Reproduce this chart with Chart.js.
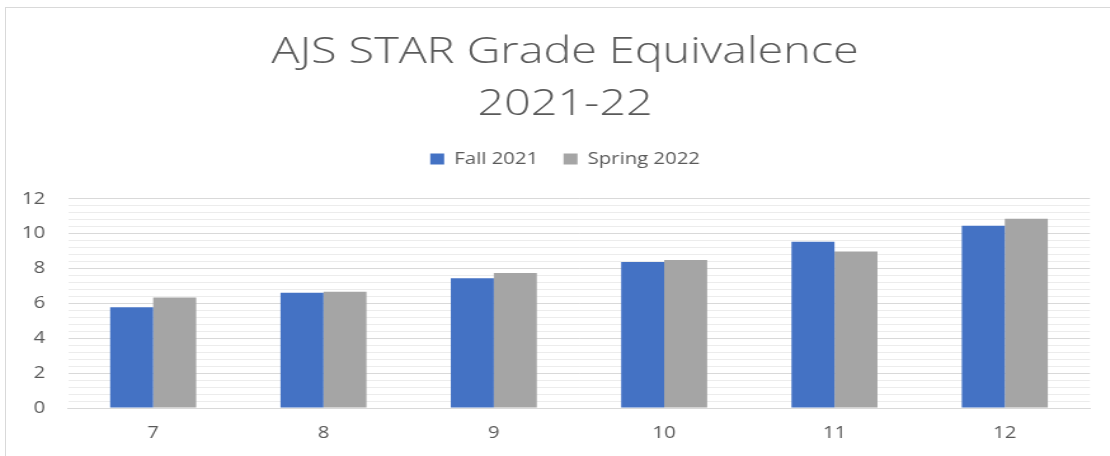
<!DOCTYPE html>
<html>
<head>
<meta charset="utf-8">
<script src="https://cdn.jsdelivr.net/npm/chart.js@4"></script>
<style>
  html, body { margin: 0; padding: 0; background: #ffffff; overflow: hidden; }
  #frame { position: absolute; left: 5px; top: 7px; width: 1110px; height: 460px;
           border-left: 1px solid #d9d9d9; border-top: 1px solid #d9d9d9; }
  #wrap { position: absolute; left: 5px; top: 0; width: 882px; height: 456px;
          transform: scaleX(1.27); transform-origin: 0 0; }
</style>
</head>
<body>
<div id="frame"></div>
<div id="wrap"><canvas id="c"></canvas></div>
<script>
const categories = ['7', '8', '9', '10', '11', '12'];
const fall2021 = [5.79, 6.61, 7.45, 8.38, 9.54, 10.46];
const spring2022 = [6.34, 6.67, 7.75, 8.50, 8.99, 10.87];
const yMajorTicks = [0, 2, 4, 6, 8, 10, 12];
const yMinorStep = 0.4;
const titleLines = ['AJS STAR Grade Equivalence', '2021-22'];
const seriesNames = ['Fall 2021', 'Spring 2022'];

const textColor = '#595959';
const fontFamily = "'Open Sans', 'Noto Sans', sans-serif";

const legendMargin = {
  id: 'legendMargin',
  beforeInit(chart) {
    const orig = chart.legend.fit;
    chart.legend.fit = function () {
      orig.bind(chart.legend)();
      this.height += 22;
    };
  }
};

new Chart(document.getElementById('c'), {
  type: 'bar',
  data: {
    labels: categories,
    datasets: [
      { label: seriesNames[0], data: fall2021, backgroundColor: '#4472C4',
        categoryPercentage: 0.505, barPercentage: 1.0 },
      { label: seriesNames[1], data: spring2022, backgroundColor: '#A5A5A5',
        categoryPercentage: 0.505, barPercentage: 1.0 }
    ]
  },
  plugins: [legendMargin],
  options: {
    responsive: true,
    maintainAspectRatio: false,
    animation: false,
    layout: { padding: 0 },
    plugins: {
      title: {
        display: true,
        text: titleLines,
        color: textColor,
        font: { family: fontFamily, size: 36.8, weight: '300', lineHeight: 1.413 },
        padding: { top: 27, bottom: 0 }
      },
      legend: {
        display: true,
        position: 'top',
        labels: {
          color: textColor,
          font: { family: fontFamily, size: 16 },
          boxWidth: 11,
          boxHeight: 11,
          padding: 20
        }
      },
      tooltip: { enabled: false }
    },
    scales: {
      x: {
        afterFit: (axis) => { axis.height = 48; },
        grid: { display: false, drawTicks: false },
        border: { display: true, color: '#d9d9d9', width: 1 },
        ticks: { color: textColor, font: { family: fontFamily, size: 16 }, padding: 16 }
      },
      y: {
        min: 0,
        max: 12,
        afterFit: (axis) => { axis.width = 49.6; },
        afterBuildTicks: (axis) => {
          const n = Math.round((axis.max - axis.min) / yMinorStep);
          const t = [];
          for (let i = 0; i <= n; i++) t.push({ value: Math.round((axis.min + i * yMinorStep) * 1000) / 1000 });
          axis.ticks = t;
        },
        border: { display: false },
        grid: {
          drawTicks: false,
          color: (ctx) => (ctx.tick && yMajorTicks.includes(ctx.tick.value)) ? '#d9d9d9' : '#ececec',
          lineWidth: 1
        },
        ticks: {
          autoSkip: false,
          color: textColor,
          font: { family: fontFamily, size: 16 },
          padding: 18,
          callback: (v) => yMajorTicks.includes(v) ? String(v) : ''
        }
      },
      yRightSpace: {
        position: 'right',
        min: 0,
        max: 12,
        afterFit: (axis) => { axis.width = 27.7; },
        grid: { display: false, drawTicks: false },
        border: { display: false },
        ticks: { display: false }
      }
    }
  }
});
</script>
</body>
</html>
